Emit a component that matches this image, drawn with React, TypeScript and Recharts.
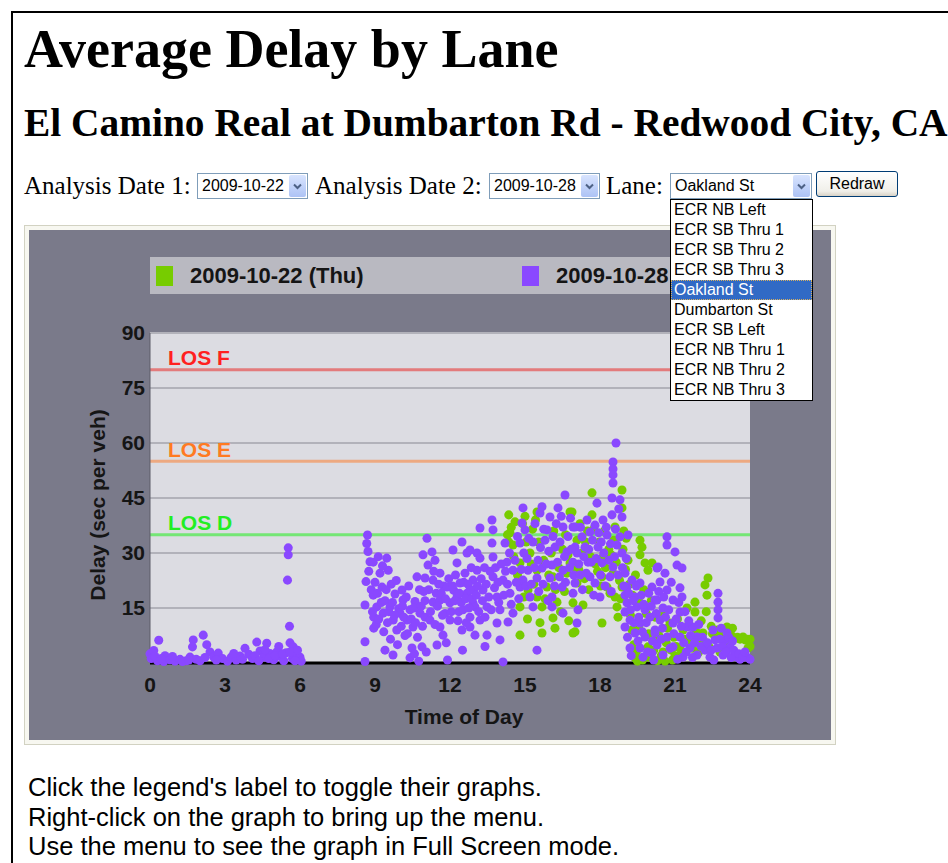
import React from "react";
import {
    ScatterChart,
    Scatter,
    XAxis,
    YAxis,
    ZAxis,
    CartesianGrid,
    ReferenceLine,
    Legend,
} from "recharts";

type Pt = [number, number];

// ---- data (hour of day, delay in sec/veh) ----

const SERIES_NAMES = ["2009-10-22 (Thu)", "2009-10-28 (Wed)"];
const HOUR_TICKS = [0, 3, 6, 9, 12, 15, 18, 21, 24];
const DELAY_TICKS = [15, 30, 45, 60, 75, 90];
const LOS_NAMES = ["LOS F", "LOS E", "LOS D"];
const LOS_VALUES = [80, 55, 35];
const LANES = [
    "ECR NB Left", "ECR SB Thru 1", "ECR SB Thru 2", "ECR SB Thru 3", "Oakland St",
    "Dumbarton St", "ECR SB Left", "ECR NB Thru 1", "ECR NB Thru 2", "ECR NB Thru 3",
];
const SELECTED_LANE = "Oakland St";
const DATE_1 = "2009-10-22";
const DATE_2 = "2009-10-28";

const wedEarly: Pt[] = [
    [0, 2.5], [0.05, 1.2], [0.15, 3.4], [0.35, 6.2], [0.3, 0.6], [0.55, 0.4], [0.6, 2.0], [0.8, 0.9],
    [1.0, 0.5], [1.2, 1.0], [1.45, 0.6], [1.6, 1.6], [1.73, 6.3], [1.7, 4.4], [1.85, 1.0], [2.13, 7.6],
    [2.27, 5.0], [2.4, 3.0], [2.55, 1.6], [2.73, 2.7], [2.9, 1.2], [3.1, 0.5], [3.25, 1.6], [3.45, 0.8],
    [3.6, 1.9], [3.8, 4.0], [3.95, 2.4], [4.1, 1.2], [4.27, 5.7], [4.4, 3.3], [4.55, 1.6], [4.67, 5.4],
    [4.8, 2.6], [4.95, 0.9], [5.07, 3.0], [5.2, 1.8], [5.35, 0.6], [5.45, 2.8], [5.53, 31.4], [5.53, 29.5],
    [5.5, 22.6], [5.58, 10.0], [5.6, 5.5], [5.7, 1.2], [5.73, 4.4], [5.87, 2.2], [6.0, 1.6], [6.05, 0.5],
    [0.2, 1.8], [0.45, 1.2], [0.9, 1.8], [1.3, 0.4], [1.55, 0.8], [2.0, 0.6], [2.2, 1.5], [2.65, 0.8],
    [3.35, 2.6], [3.7, 1.0], [4.2, 2.0], [4.35, 0.6], [4.6, 3.6], [4.75, 1.2], [5.0, 2.0], [5.15, 4.5],
    [5.3, 2.5], [5.6, 3.0], [5.8, 0.6], [5.9, 3.5],
];

const wedMorning: Pt[] = [
    [8.6, 0.4], [8.6, 5.8], [8.6, 15.8], [8.64, 22.2], [8.67, 32.6], [8.7, 34.9], [8.72, 30.4], [8.8, 27.6],
    [8.93, 27.5], [8.93, 18.5], [8.95, 12.5], [8.95, 9.5], [9.07, 15.3], [9.13, 29.0], [9.2, 24.5],
    [9.28, 20.7], [9.33, 13.6], [9.4, 17.0], [9.47, 28.6], [9.53, 25.3], [9.6, 15.3], [9.65, 21.5],
    [9.72, 2.2], [9.73, 11.7], [9.8, 18.8], [9.87, 9.0], [9.95, 14.8], [10.0, 13.6], [10.08, 19.9],
    [10.12, 17.2], [10.2, 7.5], [10.28, 11.7], [10.4, 14.5], [10.4, 1.4], [10.48, 4.1], [10.52, 9.8],
    [10.6, 16.8], [10.68, 23.5], [10.8, 13.6], [10.88, 4.4], [10.92, 29.5], [11.0, 23.2], [10.95, 19.5],
    [10.75, 0.5], [8.75, 25.0], [8.85, 20.0], [8.9, 14.0], [9.0, 22.0], [9.05, 10.5], [9.1, 19.0],
    [9.15, 12.0], [9.25, 16.5], [9.3, 26.5], [9.35, 8.5], [9.45, 20.0], [9.5, 11.0], [9.55, 14.0],
    [9.62, 6.5], [9.7, 16.5], [9.78, 13.0], [9.85, 22.5], [9.9, 5.0], [10.05, 10.0], [10.1, 15.5],
    [10.15, 12.5], [10.25, 18.0], [10.3, 8.0], [10.35, 21.0], [10.45, 12.0], [10.55, 15.0], [10.62, 11.0],
    [10.7, 7.0], [10.78, 20.0], [10.85, 15.5], [10.9, 10.0], [11.0, 17.0], [11.0, 12.5], [11.05, 3.0],
    [10.58, 2.5], [9.4, 3.5],
];

const wedMidday: Pt[] = [
    [11.08, 34.0], [11.12, 26.7], [11.2, 11.7], [11.28, 30.3], [11.32, 22.6], [11.32, 16.6], [11.4, 28.0],
    [11.45, 19.0], [11.48, 4.9], [11.6, 24.5], [11.6, 17.2], [11.6, 9.8], [11.72, 7.6], [11.75, 21.0],
    [11.8, 13.5], [11.88, 20.7], [11.9, 0.8], [12.0, 16.4], [12.0, 11.7], [12.12, 30.8], [12.15, 19.8],
    [12.28, 27.3], [12.28, 18.0], [12.35, 14.0], [12.4, 21.8], [12.48, 33.0], [12.48, 9.0], [12.52, 14.5],
    [12.6, 24.5], [12.68, 30.0], [12.68, 19.0], [12.8, 12.5], [12.8, 30.8], [12.8, 19.9], [12.8, 9.8],
    [12.92, 22.6], [12.92, 16.4], [13.0, 7.6], [13.0, 15.3], [13.08, 25.3], [13.08, 30.0], [13.2, 36.8],
    [13.2, 28.6], [13.2, 11.7], [13.32, 19.9], [13.48, 15.3], [13.48, 7.6], [13.68, 39.0], [13.68, 32.7],
    [13.72, 36.3], [13.72, 28.9], [13.72, 23.5], [13.88, 18.0], [13.88, 10.9], [14.0, 14.5], [14.0, 6.3],
    [14.12, 22.6], [14.12, 0.3], [11.15, 20.0], [11.22, 14.0], [11.35, 25.0], [11.4, 10.5], [11.5, 15.5],
    [11.55, 21.5], [11.65, 19.0], [11.7, 13.0], [11.82, 17.5], [11.95, 23.0], [12.05, 14.0], [12.1, 21.0],
    [12.2, 17.0], [12.22, 24.0], [12.32, 11.5], [12.38, 19.0], [12.45, 16.5], [12.55, 22.0], [12.62, 17.5],
    [12.65, 11.0], [12.72, 21.5], [12.75, 15.0], [12.85, 26.0], [12.88, 17.5], [12.95, 20.0], [13.05, 18.5],
    [13.1, 21.0], [13.15, 14.0], [13.25, 23.0], [13.3, 17.0], [13.38, 26.0], [13.4, 12.5], [13.45, 21.5],
    [13.55, 18.0], [13.6, 25.0], [13.65, 14.5], [13.78, 20.5], [13.82, 26.0], [13.92, 22.0], [13.95, 16.5],
    [13.4, 4.5], [12.5, 3.5], [11.85, 5.5],
];

const wedAfternoon: Pt[] = [
    [14.2, 32.7], [14.28, 27.5], [14.32, 11.2], [14.4, 19.0], [14.52, 25.3], [14.52, 13.6], [14.8, 32.7],
    [14.8, 20.7], [14.88, 38.2], [14.92, 42.3], [14.92, 22.6], [15.0, 36.3], [15.12, 25.3], [15.2, 18.0],
    [15.32, 33.0], [15.32, 15.3], [15.48, 23.2], [15.48, 3.5], [15.52, 28.0], [15.6, 40.9], [15.68, 42.6],
    [15.68, 25.9], [15.8, 33.5], [15.88, 36.3], [16.0, 39.8], [16.0, 23.2], [16.08, 26.7], [16.08, 18.0],
    [16.08, 15.3], [16.2, 31.6], [16.32, 42.3], [16.48, 20.7], [16.52, 37.1], [16.52, 25.3], [16.52, 13.6],
    [16.6, 45.8], [16.68, 30.3], [16.92, 37.1], [16.92, 27.5], [16.92, 19.0], [17.0, 37.1], [17.0, 31.6],
    [17.0, 21.8], [17.08, 30.0], [17.08, 10.9], [14.05, 27.0], [14.15, 18.5], [14.22, 25.0], [14.3, 21.5],
    [14.38, 30.0], [14.45, 16.0], [14.6, 28.0], [14.65, 22.0], [14.7, 34.5], [14.75, 17.5], [14.85, 25.5],
    [14.95, 30.0], [15.05, 21.0], [15.08, 28.5], [15.15, 34.0], [15.25, 21.5], [15.38, 26.0], [15.4, 38.0],
    [15.55, 19.5], [15.62, 31.5], [15.72, 21.5], [15.75, 36.5], [15.85, 27.0], [15.92, 17.0], [15.95, 30.5],
    [16.12, 34.5], [16.18, 21.0], [16.25, 38.0], [16.3, 27.5], [16.38, 23.5], [16.4, 33.0], [16.45, 40.0],
    [16.58, 29.0], [16.62, 22.0], [16.72, 34.5], [16.78, 26.0], [16.82, 39.5], [16.85, 31.0], [16.95, 24.0],
];

const wedEvening: Pt[] = [
    [17.12, 14.5], [17.2, 24.0], [17.28, 34.4], [17.4, 31.6], [17.52, 27.5], [17.6, 35.7], [17.6, 23.5],
    [17.8, 37.6], [17.8, 21.8], [17.88, 43.6], [17.92, 31.6], [18.0, 18.0], [18.08, 27.3], [18.12, 39.0],
    [18.28, 34.9], [18.4, 23.5], [18.48, 45.0], [18.48, 40.4], [18.52, 54.8], [18.52, 52.9], [18.52, 51.3],
    [18.52, 49.1], [18.52, 26.2], [18.64, 60.0], [18.68, 32.2], [18.8, 44.5], [18.8, 34.4], [18.88, 39.8],
    [18.88, 30.0], [19.0, 24.5], [19.0, 18.5], [19.0, 13.9], [19.0, 9.8], [19.08, 20.7], [19.08, 16.4],
    [19.12, 34.9], [19.2, 11.7], [19.2, 4.1], [19.28, 22.6], [19.4, 18.0], [19.4, 8.2], [19.48, 15.3],
    [19.6, 21.8], [19.6, 10.9], [19.6, 4.1], [19.72, 1.6], [19.8, 14.5], [19.8, 7.1], [20.0, 12.5],
    [20.08, 20.7], [20.08, 2.7], [20.2, 17.2], [20.2, 9.0], [20.28, 25.9], [17.15, 27.0], [17.22, 37.0],
    [17.3, 20.0], [17.35, 29.0], [17.45, 24.5], [17.48, 39.0], [17.55, 31.0], [17.65, 27.5], [17.7, 33.5],
    [17.75, 18.5], [17.85, 28.5], [17.95, 35.5], [18.02, 24.0], [18.05, 33.0], [18.15, 30.0], [18.2, 21.0],
    [18.25, 37.0], [18.35, 28.0], [18.42, 32.5], [18.45, 19.5], [18.58, 29.0], [18.62, 36.5], [18.72, 24.0],
    [18.75, 42.0], [18.9, 26.0], [18.95, 21.0], [19.05, 28.5], [19.1, 7.0], [19.15, 19.0], [19.22, 14.5],
    [19.25, 2.0], [19.32, 17.0], [19.35, 11.0], [19.45, 21.0], [19.52, 6.0], [19.55, 12.5], [19.65, 18.5],
    [19.7, 8.5], [19.75, 16.0], [19.85, 11.0], [19.9, 3.0], [19.95, 19.0], [20.05, 15.5], [20.1, 6.0],
    [20.15, 0.8],
];

const wedLate: Pt[] = [
    [20.2, 8.2], [20.28, 17.2], [20.28, 4.9], [20.32, 26.2], [20.4, 22.1], [20.4, 11.7], [20.52, 15.0],
    [20.52, 2.2], [20.6, 24.5], [20.68, 34.4], [20.68, 32.2], [20.68, 19.9], [20.68, 7.1], [20.92, 17.2],
    [20.92, 10.9], [20.92, 4.4], [21.0, 30.3], [21.08, 26.7], [21.2, 20.5], [21.2, 13.9], [21.2, 7.1],
    [21.28, 25.9], [21.28, 18.0], [21.32, 1.6], [21.48, 9.8], [21.6, 4.1], [21.72, 9.8], [21.88, 7.1],
    [21.88, 2.2], [22.2, 3.5], [22.4, 1.6], [22.52, 9.0], [22.6, 6.3], [22.68, 4.1], [22.72, 19.0],
    [22.72, 16.6], [22.72, 14.5], [22.72, 12.3], [22.92, 2.2], [23.0, 6.3], [23.08, 8.2], [23.2, 4.4],
    [23.48, 1.6], [23.6, 1.0], [23.88, 1.6], [24.0, 1.0], [20.25, 13.5], [20.35, 19.5], [20.45, 6.5],
    [20.5, 9.5], [20.55, 18.0], [20.62, 12.5], [20.75, 14.5], [20.8, 4.0], [20.85, 22.0], [20.95, 8.0],
    [21.05, 12.0], [21.1, 1.0], [21.15, 16.5], [21.25, 10.0], [21.35, 5.5], [21.4, 14.0], [21.45, 3.0],
    [21.55, 11.5], [21.62, 7.5], [21.7, 1.5], [21.78, 5.5], [21.95, 10.5], [22.05, 4.5], [22.1, 7.0],
    [22.3, 5.5], [22.45, 3.5], [22.55, 0.8], [22.8, 6.5], [22.85, 9.5], [22.9, 4.5], [23.05, 3.0],
    [23.15, 7.0], [23.25, 1.5], [23.3, 6.0], [23.35, 3.5], [23.55, 2.5], [23.7, 1.5], [23.8, 3.0],
];

const thuAfternoon: Pt[] = [
    [14.3, 35.0], [14.35, 40.4], [14.4, 35.5], [14.52, 32.2], [14.6, 38.5], [14.8, 27.3], [14.8, 21.8],
    [14.8, 15.3], [14.8, 7.6], [15.0, 40.0], [15.12, 19.9], [15.2, 30.0], [15.3, 36.5], [15.48, 41.2],
    [15.48, 25.3], [15.48, 18.0], [15.68, 15.3], [15.68, 8.2], [15.88, 20.7], [16.12, 23.5], [16.12, 12.3],
    [16.2, 9.5], [16.28, 16.6], [16.5, 31.0], [16.68, 24.5], [16.8, 41.2], [16.8, 27.3], [16.88, 41.2],
    [16.92, 16.4], [16.92, 8.2], [17.0, 8.5], [17.08, 33.5], [17.08, 21.8], [14.35, 33.0], [14.45, 37.0],
    [14.55, 29.0], [14.7, 24.0], [14.9, 38.0], [14.95, 18.0], [15.05, 33.0], [15.1, 12.0], [15.25, 27.0],
    [15.35, 21.5], [15.42, 39.0], [15.55, 33.0], [15.6, 11.0], [15.75, 28.0], [15.8, 17.5], [15.95, 24.0],
    [16.05, 30.0], [16.15, 36.0], [16.22, 20.0], [16.35, 26.0], [16.42, 14.0], [16.58, 19.5], [16.62, 35.0],
    [16.72, 29.5], [16.75, 11.5], [16.98, 26.0],
];

const thuEvening: Pt[] = [
    [17.28, 30.0], [17.32, 15.8], [17.5, 36.0], [17.68, 46.4], [17.68, 40.4], [17.9, 25.0], [18.08, 23.5],
    [18.08, 10.9], [18.12, 28.9], [18.28, 20.7], [18.52, 24.5], [18.6, 37.1], [18.6, 18.0], [18.68, 15.3],
    [18.72, 12.5], [18.88, 47.2], [18.88, 42.3], [18.88, 20.7], [18.95, 36.0], [19.12, 28.0], [19.28, 9.0],
    [19.4, 1.4], [19.45, 3.0], [19.5, 0.5], [19.6, 33.5], [19.6, 29.5], [19.6, 16.4], [19.68, 31.6],
    [19.7, 0.8], [19.8, 27.3], [19.92, 25.3], [19.92, 4.4], [20.0, 1.5], [20.08, 27.3], [20.2, 12.5],
    [20.3, 0.6], [17.15, 25.5], [17.2, 38.0], [17.38, 23.0], [17.42, 33.0], [17.55, 20.0], [17.62, 29.0],
    [17.75, 36.5], [17.82, 27.0], [17.98, 33.0], [18.02, 21.0], [18.18, 36.0], [18.22, 26.0], [18.35, 31.0],
    [18.4, 19.0], [18.45, 29.5], [18.55, 33.5], [18.65, 27.5], [18.78, 22.5], [18.82, 17.5], [18.92, 31.0],
    [19.02, 25.5], [19.05, 34.0], [19.18, 21.5], [19.22, 13.0], [19.3, 18.5], [19.35, 5.0], [19.42, 24.0],
    [19.55, 10.0], [19.75, 20.0], [19.85, 13.5], [19.95, 8.0], [20.05, 17.0], [20.15, 3.5], [20.25, 6.0],
];

const thuLate: Pt[] = [
    [20.4, 12.5], [20.52, 3.0], [20.6, 0.5], [20.8, 10.9], [20.9, 0.8], [21.0, 2.0], [21.2, 4.1],
    [21.32, 9.0], [21.48, 15.0], [21.6, 6.0], [21.8, 16.6], [21.8, 13.9], [22.0, 5.5], [22.12, 8.2],
    [22.2, 21.3], [22.28, 18.5], [22.32, 23.2], [22.5, 8.0], [22.8, 3.0], [23.08, 9.8], [23.4, 6.8],
    [23.72, 7.1], [23.8, 6.3], [23.92, 4.1], [24.0, 6.5], [20.35, 7.5], [20.45, 2.0], [20.55, 14.0],
    [20.65, 5.5], [20.7, 9.5], [20.85, 3.5], [20.95, 7.0], [21.05, 4.5], [21.1, 12.0], [21.25, 2.5],
    [21.4, 6.5], [21.55, 10.5], [21.7, 4.0], [21.85, 8.5], [21.95, 3.0], [22.05, 11.5], [22.15, 6.0],
    [22.25, 14.0], [22.35, 4.5], [22.45, 10.0], [22.6, 7.5], [22.7, 9.0], [22.9, 7.5], [23.0, 5.5],
    [23.15, 8.5], [23.25, 7.5], [23.3, 9.5], [23.5, 7.0], [23.6, 6.5], [23.9, 6.5], [24.0, 4.5],
];

// ---- styles ----

const SANS = '"Liberation Sans", Arial, sans-serif';
const SERIF = '"Liberation Serif", "Times New Roman", serif';
const SERIES_COLORS = ["#77cc00", "#8a48ff"];
const LOS_LINE = ["#e46a6a", "#f0a070", "#62e862"];
const LOS_TEXT = ["#ff2020", "#ff7a22", "#22ee22"];
const INK = "#151515";

const toRows = (pts: Pt[]) => pts.map(([h, v]) => ({ h, v }));
const thuRows = toRows([...thuAfternoon, ...thuEvening, ...thuLate]);
const wedRows = toRows([...wedEarly, ...wedMorning, ...wedMidday, ...wedAfternoon, ...wedEvening, ...wedLate]);

const tickStyle = { fill: INK, fontSize: 21, fontWeight: "bold", fontFamily: SANS } as const;

function LegendBand(props: any) {
    const payload = props.payload ?? [];
    return (
        <div style={{ background: "#b9b9c1", height: 37, display: "flex", alignItems: "center", fontFamily: SANS, overflow: "hidden" }}>
            {payload.map((entry: any) => (
                <div key={entry.value} style={{ width: 366, flexShrink: 0, display: "flex", alignItems: "center" }}>
                    <span style={{ width: 17, height: 20, marginLeft: 6, background: entry.color, display: "inline-block" }} />
                    <span style={{ marginLeft: 17, fontSize: 22, fontWeight: "bold", color: INK, whiteSpace: "nowrap" }}>
                        {entry.value}
                    </span>
                </div>
            ))}
        </div>
    );
}

function DelayChart() {
    return (
        <div style={{ width: 802, height: 510, background: "#7a7a8a" }}>
            <ScatterChart width={802} height={510} margin={{ top: 103, right: 81, bottom: 7, left: 61 }}>
                <CartesianGrid fill="#dcdce2" stroke="#b2b2ba" strokeWidth={2} vertical={false} />
                <XAxis
                    type="number"
                    dataKey="h"
                    domain={[0, 24]}
                    ticks={HOUR_TICKS}
                    interval={0}
                    height={70}
                    tickLine={false}
                    tickSize={6}
                    tickMargin={8}
                    axisLine={{ stroke: "#000", strokeWidth: 3 }}
                    tick={tickStyle}
                    label={({ viewBox }: any) => (
                        <text
                            x={viewBox.x + viewBox.width / 2 + 14}
                            y={viewBox.y + 61}
                            textAnchor="middle"
                            style={tickStyle}
                        >
                            Time of Day
                        </text>
                    )}
                />
                <YAxis
                    type="number"
                    dataKey="v"
                    domain={[0, 90]}
                    ticks={DELAY_TICKS}
                    interval={0}
                    width={60}
                    tickLine={false}
                    tickSize={3}
                    tickMargin={2}
                    axisLine={{ stroke: "#5c5c68", strokeWidth: 1 }}
                    tick={tickStyle}
                    label={({ viewBox }: any) => {
                        const cx = viewBox.x + 7;
                        const cy = viewBox.y + viewBox.height / 2 + 7;
                        return (
                            <text
                                x={cx}
                                y={cy}
                                transform={`rotate(-90, ${cx}, ${cy})`}
                                textAnchor="middle"
                                dominantBaseline="central"
                                style={tickStyle}
                            >
                                Delay (sec per veh)
                            </text>
                        );
                    }}
                />
                <ZAxis range={[70, 70]} />
                <Legend
                    layout="horizontal"
                    align="center"
                    verticalAlign="middle"
                    wrapperStyle={{ top: 27, left: 121, width: 600, height: 37 }}
                    content={LegendBand}
                />
                <Scatter name={SERIES_NAMES[0]} data={thuRows} fill={SERIES_COLORS[0]} isAnimationActive={false} />
                <Scatter name={SERIES_NAMES[1]} data={wedRows} fill={SERIES_COLORS[1]} isAnimationActive={false} />
                {LOS_VALUES.map((value, i) => (
                    <ReferenceLine
                        key={LOS_NAMES[i]}
                        y={value}
                        stroke={LOS_LINE[i]}
                        strokeWidth={3}
                        strokeOpacity={0.85}
                        label={({ viewBox }: any) => (
                            <text
                                x={viewBox.x + 18}
                                y={viewBox.y - 4.5}
                                style={{ ...tickStyle, fill: LOS_TEXT[i] }}
                            >
                                {LOS_NAMES[i]}
                            </text>
                        )}
                    />
                ))}
            </ScatterChart>
        </div>
    );
}

function Chevron() {
    return (
        <svg width="9" height="7" viewBox="0 0 9 7">
            <path d="M1 1.5 L4.5 5 L8 1.5" fill="none" stroke="#4d6185" strokeWidth="2" />
        </svg>
    );
}

function SelectBox({ left, width, text }: { left: number; width: number; text: string }) {
    return (
        <div
            style={{
                position: "absolute", left, top: 173, width: width - 2, height: 24,
                border: "1px solid #7f9db9", background: "#fff", fontFamily: SANS, fontSize: 16,
                lineHeight: "24px", color: "#000",
            }}
        >
            <span style={{ position: "absolute", left: 4, top: 0, whiteSpace: "nowrap" }}>{text}</span>
            <div
                style={{
                    position: "absolute", right: 1, top: 1, width: 17, height: 22, borderRadius: 2,
                    background: "linear-gradient(#d8e4fe, #adc3f5)", display: "flex",
                    alignItems: "center", justifyContent: "center",
                }}
            >
                <Chevron />
            </div>
        </div>
    );
}

const labelStyle: React.CSSProperties = {
    position: "absolute", top: 173, fontFamily: SERIF, fontSize: 25, lineHeight: "25px",
    whiteSpace: "nowrap", color: "#000",
};

export default function App() {
    return (
        <div style={{ position: "absolute", left: 0, top: 0, width: 948, height: 863, overflow: "hidden", background: "#fff" }}>
            <div
                style={{
                    position: "absolute", left: 11, top: 11, width: 980, height: 900,
                    borderTop: "2px solid #000", borderLeft: "2px solid #000",
                }}
            />
            <div
                style={{
                    position: "absolute", left: 24, top: 22, fontFamily: SERIF, fontWeight: "bold",
                    fontSize: 54, lineHeight: "54px", whiteSpace: "nowrap",
                }}
            >
                Average Delay by Lane
            </div>
            <div
                style={{
                    position: "absolute", left: 24, top: 104, fontFamily: SERIF, fontWeight: "bold",
                    fontSize: 39.4, lineHeight: "39px", whiteSpace: "nowrap",
                }}
            >
                El Camino Real at Dumbarton Rd - Redwood City, CA
            </div>

            <div style={{ ...labelStyle, left: 24 }}>Analysis Date 1:</div>
            <SelectBox left={197} width={111} text={DATE_1} />
            <div style={{ ...labelStyle, left: 315 }}>Analysis Date 2:</div>
            <SelectBox left={489} width={111} text={DATE_2} />
            <div style={{ ...labelStyle, left: 606 }}>Lane:</div>
            <SelectBox left={670} width={142} text={SELECTED_LANE} />
            <div
                style={{
                    position: "absolute", left: 816, top: 171, width: 80, height: 24,
                    border: "1px solid #003c74", borderRadius: 3,
                    background: "linear-gradient(#ffffff, #f0efe9 80%, #d8d2c6)",
                    fontFamily: SANS, fontSize: 16, lineHeight: "24px", textAlign: "center",
                }}
            >
                Redraw
            </div>

            <div
                style={{
                    position: "absolute", left: 24, top: 225, width: 802, height: 510, padding: 4,
                    border: "1px solid #d2d2c2", background: "#f7f7f0",
                }}
            >
                <DelayChart />
            </div>

            <div
                style={{
                    position: "absolute", left: 670, top: 199, width: 141, height: 200,
                    border: "1px solid #000", background: "#fff", fontFamily: SANS, fontSize: 16,
                }}
            >
                {LANES.map((lane) => {
                    const on = lane === SELECTED_LANE;
                    return (
                        <div
                            key={lane}
                            style={{
                                height: 20, lineHeight: on ? "18px" : "20px", paddingLeft: on ? 2 : 3, whiteSpace: "nowrap",
                                background: on ? "#316ac5" : "transparent", color: on ? "#fff" : "#000",
                                boxSizing: "border-box", border: on ? "1px dotted #d8b060" : "none",
                            }}
                        >
                            {lane}
                        </div>
                    );
                })}
            </div>

            <div
                style={{
                    position: "absolute", left: 28, top: 773, fontFamily: SANS, fontSize: 25.5,
                    lineHeight: "29.5px", color: "#000", whiteSpace: "nowrap",
                }}
            >
                <div>Click the legend's label to toggle their graphs.</div>
                <div>Right-click on the graph to bring up the menu.</div>
                <div>Use the menu to see the graph in Full Screen mode.</div>
            </div>
        </div>
    );
}
